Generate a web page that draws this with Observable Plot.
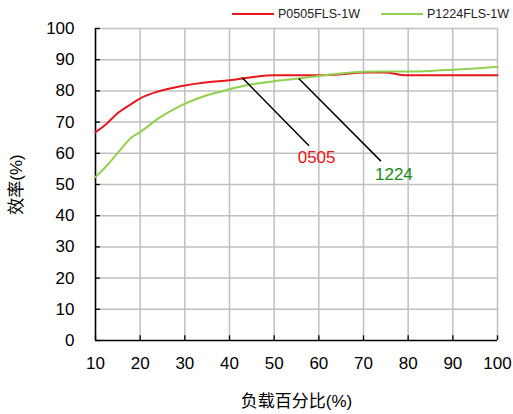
<!DOCTYPE html>
<html>
<head>
<meta charset="utf-8">
<script src="https://cdn.jsdelivr.net/npm/d3@7"></script>
<script src="https://cdn.jsdelivr.net/npm/@observablehq/plot@0.6"></script>
<style>
  body { margin: 0; background: #fff; font-family: "Liberation Sans", Arial, "Noto Sans CJK SC", sans-serif; }
  #wrap { width: 513px; }
  #legend { height: 20px; position: relative; font-size: 12.5px; color: #222; }
  .item { position: absolute; top: 7px; display: flex; align-items: center; white-space: nowrap; }
  .sw { display: inline-block; width: 42px; height: 2px; margin-right: 4px; }
</style>
</head>
<body>
<div id="wrap">
  <div id="legend"></div>
  <div id="chart"></div>
</div>
<script>
// Data
const load0505 = [10, 12.5, 15, 18, 21, 24, 29, 35, 40, 45, 50, 55, 60, 65, 70, 75, 78.5, 80, 90, 100];
const eff0505  = [66.8, 69.5, 72.9, 75.8, 78.3, 79.8, 81.5, 82.8, 83.4, 84.4, 85, 85, 85, 85.3, 85.9, 85.9, 85.1, 85, 85, 85];
const load1224 = [10, 12.5, 15.5, 18, 20, 24, 29, 35, 40, 45, 50, 55, 60, 65, 70, 75, 80, 85, 90, 95, 100];
const eff1224  = [52.4, 56, 61, 65, 66.8, 71.1, 75.2, 78.6, 80.5, 82.1, 83.1, 83.9, 84.8, 85.6, 86.1, 86.2, 86.2, 86.4, 86.8, 87.2, 87.7];
const seriesNames = ["P0505FLS-1W", "P1224FLS-1W"];
const seriesColors = ["#e8161d", "#92d050"];
const xTicks = [10, 20, 30, 40, 50, 60, 70, 80, 90, 100];
const yTicks = [0, 10, 20, 30, 40, 50, 60, 70, 80, 90, 100];
// annotations: curve point -> label point
const annNames = ["0505", "1224"];
const annColors = ["#ee1111", "#1a8a1a"];
const annFrom = [[42.8, 84.3], [55.5, 84.0]];
const annTo = [[57.8, 62.4], [73.9, 57.5]];
const annText = [[59.5, 58.6], [76.8, 53.2]];

const rows = [
  ...load0505.map((x, i) => ({x, y: eff0505[i], s: seriesNames[0]})),
  ...load1224.map((x, i) => ({x, y: eff1224[i], s: seriesNames[1]}))
];
const anns = annNames.map((n, i) => ({
  n, c: annColors[i], x1: annFrom[i][0], y1: annFrom[i][1], x2: annTo[i][0], y2: annTo[i][1], tx: annText[i][0], ty: annText[i][1]
}));

// legend
const lg = document.getElementById("legend");
const legPos = [232, 381];
seriesNames.forEach((n, i) => {
  const d = document.createElement("div");
  d.className = "item";
  d.style.left = legPos[i] + "px";
  d.innerHTML = `<span class="sw" style="background:${seriesColors[i]}"></span><span>${n}</span>`;
  lg.appendChild(d);
});

const font = '"Liberation Sans", Arial, "Noto Sans CJK SC", sans-serif';
const chart = Plot.plot({
  width: 513,
  height: 394,
  marginLeft: 95,
  marginRight: 16,
  marginTop: 8,
  marginBottom: 74,
  style: {fontFamily: font, fontSize: "17px", color: "#000", background: "#fff", overflow: "visible"},
  x: {domain: [10, 100]},
  y: {domain: [0, 100]},
  color: {domain: seriesNames, range: seriesColors},
  marks: [
    Plot.gridX(xTicks.slice(1), {stroke: "#c0c0c0", strokeOpacity: 1, strokeWidth: 1.5}),
    Plot.gridY(yTicks.slice(1), {stroke: "#c0c0c0", strokeOpacity: 1, strokeWidth: 1.5}),
    Plot.axisX({ticks: xTicks, tickSize: 0, tickPadding: 16, label: "负载百分比(%)", labelAnchor: "center", labelArrow: "none", labelOffset: 66, fontSize: 17}),
    Plot.axisY({ticks: yTicks, tickSize: 0, tickPadding: 21, label: "效率(%)", labelAnchor: "center", labelArrow: "none", labelOffset: 86, fontSize: 17}),
    Plot.ruleX(xTicks, {x: d => d, y1: 0, y2: 1.5, stroke: "#000", strokeWidth: 1.3}),
    Plot.ruleY(yTicks, {y: d => d, x1: 10, x2: 11.1, stroke: "#000", strokeWidth: 1.3}),
    Plot.ruleX([10], {stroke: "#000", strokeWidth: 1.6}),
    Plot.ruleY([0], {stroke: "#000", strokeWidth: 1.6}),
    Plot.line(rows, {x: "x", y: "y", z: "s", stroke: "s", strokeWidth: 2, curve: "monotone-x"}),
    Plot.link(anns, {x1: "x1", y1: "y1", x2: "x2", y2: "y2", stroke: "#000", strokeWidth: 1.5}),
    Plot.text(anns, {x: "tx", y: "ty", text: "n", fill: "c", fontSize: 17})
  ]
});
document.getElementById("chart").appendChild(chart);
</script>
</body>
</html>
